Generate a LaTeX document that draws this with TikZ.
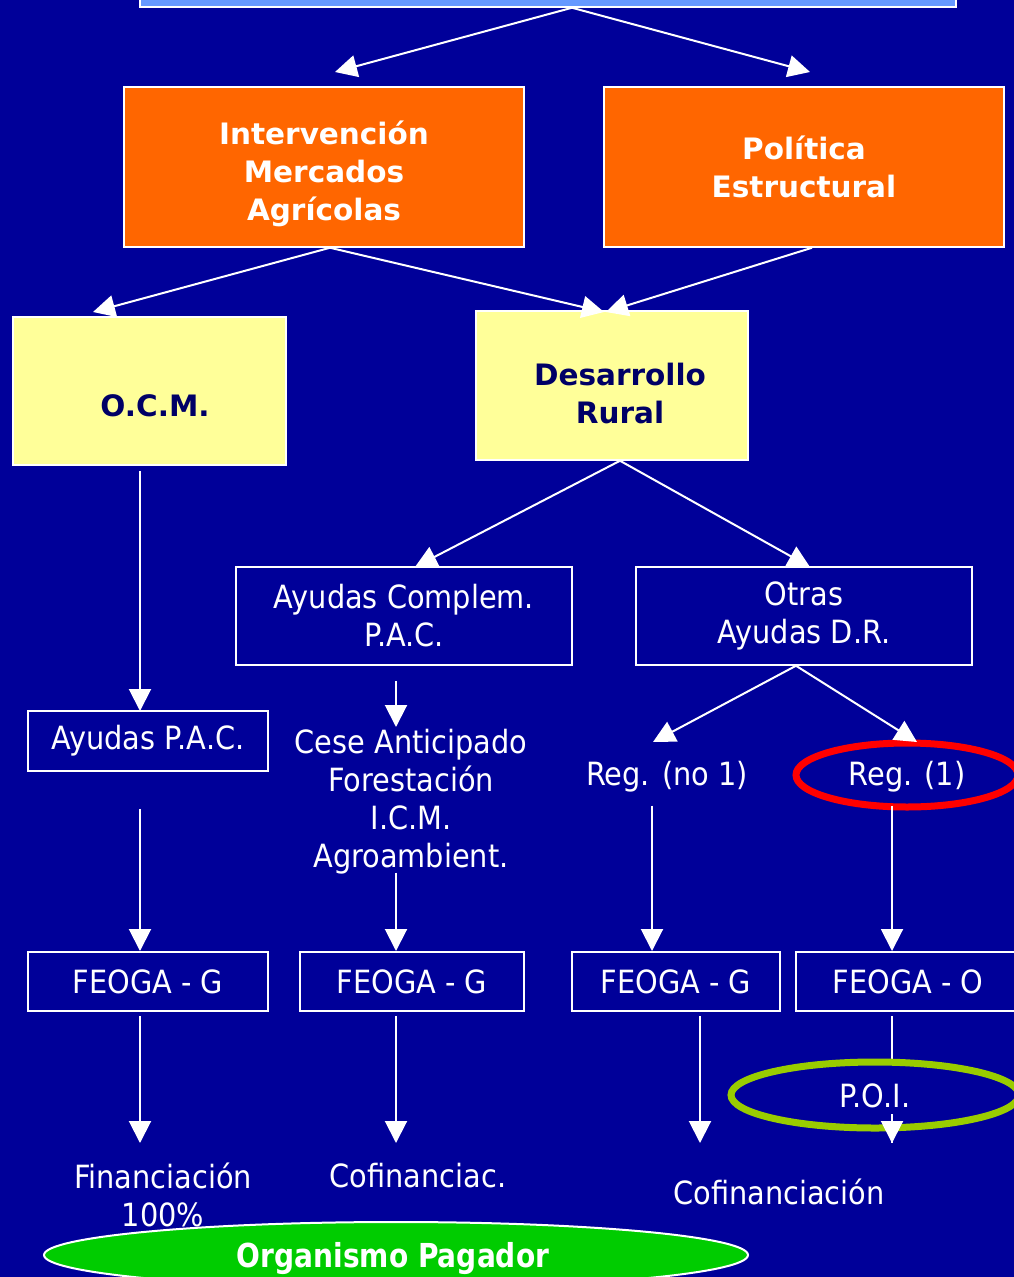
\documentclass[tikz,border=0pt]{standalone}
\usepackage{fontspec}
\setmainfont{DejaVu Sans}
\newfontfamily\tah[FakeStretch=0.9]{DejaVu Sans}
\newfontfamily\tahbold[FakeStretch=0.85]{DejaVu Sans Bold}
\usetikzlibrary{arrows.meta,shapes.geometric}
\definecolor{bg}{HTML}{000099}
\definecolor{orng}{HTML}{FF6600}
\definecolor{yel}{HTML}{FFFF99}
\definecolor{lblue}{HTML}{6699FF}
\definecolor{dnavy}{HTML}{000066}
\definecolor{redc}{HTML}{FF0000}
\definecolor{poig}{HTML}{99CC00}
\definecolor{orgg}{HTML}{00CC00}
\tikzset{
  reg/.style={font=\tah\fontsize{32}{38}\selectfont, text=white, align=center, inner sep=0pt},
  bld/.style={font=\bfseries\fontsize{29.5}{38}\selectfont, align=center, inner sep=0pt},
  obox/.style={bld, rectangle, draw=white, line width=1.5pt, fill=orng, text=white},
  ybox/.style={rectangle, draw=white, line width=1.5pt, fill=yel, inner sep=0pt},
  wbox/.style={reg, rectangle, draw=white, line width=1.5pt},
  arr/.style={draw=white, line width=2pt, -{Triangle[width=22pt,length=22pt]}},
  ring/.style={ellipse, inner sep=0pt, line width=7pt}
}
\begin{document}
\begin{tikzpicture}[x=1pt,y=-1pt]
\fill[bg] (0,0) rectangle (1014,1277);
\useasboundingbox (0,0) rectangle (1014,1277);

% top box
\node[rectangle, draw=white, line width=1.5pt, fill=lblue, minimum width=816pt, minimum height=40pt, inner sep=0pt] (top) at (548,-13) {};

% orange boxes
\node[obox, minimum width=400pt, minimum height=160pt] (iv) at (324,167) {};
\node[bld, text=white] (ivt) at (324,174) {Intervención\\Mercados\\Agrícolas};
\node[obox, minimum width=400pt, minimum height=160pt] (pe) at (804,167) {Política\\Estructural};

% yellow boxes
\node[ybox, minimum width=273pt, minimum height=148pt] (ocm) at (149.5,391) {};
\node[bld, text=dnavy] (ocmt) at (155,406) {O.C.M.};
\node[ybox, minimum width=272pt, minimum height=149pt] (dr) at (612,385.5) {};
\node[bld, text=dnavy] (drt) at (620,393) {Desarrollo\\Rural};

% outline boxes
\node[wbox, minimum width=336pt, minimum height=98pt] (acb) at (404,616) {Ayudas Complem.\\P.A.C.};
\node[wbox, minimum width=336pt, minimum height=98pt] (odr) at (804,616) {Otras\\Ayudas D.R.};
\node[wbox, minimum width=240pt, minimum height=60pt] (apac) at (148,741) {Ayudas P.A.C.};

\node[reg] (cese) at (411,802) {Cese Anticipado\\Forestación\\I.C.M.\\Agroambient.};
\node[reg] (rn1) at (667,777) {Reg. (no 1)};
\node[ring, draw=redc, minimum width=222pt, minimum height=64pt] (r1e) at (907,775) {};
\node[reg] (r1) at (907,777) {Reg. (1)};

% FEOGA boxes
\node[wbox, minimum width=240pt, minimum height=59pt] (f1) at (148,981.5) {FEOGA - G};
\node[wbox, minimum width=224pt, minimum height=59pt] (f2) at (412,981.5) {FEOGA - G};
\node[wbox, minimum width=208pt, minimum height=59pt] (f3) at (676,981.5) {FEOGA - G};
\node[wbox, minimum width=224pt, minimum height=59pt] (f4) at (908,981.5) {FEOGA - O};

% bottom texts
\node[reg] (fin) at (163,1195) {Financiación\\100\%};
\node[reg] (cof1) at (418,1176) {Cofinanciac.};
\node[reg] (cof2) at (779,1192) {Cofinanciación};

\node[ellipse, draw=white, line width=2pt, fill=orgg, minimum width=704pt, minimum height=66pt, inner sep=0pt] (org) at (396,1255) {};
\node[font=\tahbold\fontsize{33}{38}\selectfont, text=white, inner sep=0pt] (orgt) at (393,1259) {Organismo Pagador};

% arrow tips
\coordinate (t1) at (335,72);
\coordinate (t2) at (810,72);
\coordinate (t3) at (93,312);
\coordinate (t4) at (604,312);
\coordinate (t5) at (606,312);
\coordinate (t6) at (415,567);
\coordinate (t7) at (810,567);
\coordinate (t8) at (140,711);
\coordinate (t9) at (396,727);
\coordinate (t10) at (653,742);
\coordinate (t11) at (917,742);
\coordinate (t12) at (140,951);
\coordinate (t13) at (396,951);
\coordinate (t14) at (652,951);
\coordinate (t15) at (892,951);
\coordinate (t16) at (140,1143);
\coordinate (t17) at (396,1143);
\coordinate (t18) at (700,1143);
\coordinate (t19) at (892,1143);

\draw[arr] ([xshift=24pt]top.south) -- (t1);
\draw[arr] ([xshift=24pt]top.south) -- (t2);
\draw[arr] ([xshift=6pt]iv.south) -- (t3);
\draw[arr] ([xshift=6pt]iv.south) -- (t4);
\draw[arr] ([xshift=8pt]pe.south) -- (t5);
\draw[arr] ([xshift=8pt]dr.south) -- (t6);
\draw[arr] ([xshift=8pt]dr.south) -- (t7);
\draw[arr] ([xshift=-9.5pt,yshift=-5pt]ocm.south) -- (t8);
\draw[arr] ([xshift=-8pt,yshift=-15pt]acb.south) -- (t9);
\draw[arr] ([xshift=-8pt]odr.south) -- (t10);
\draw[arr] ([xshift=-8pt]odr.south) -- (t11);
\draw[arr] ([xshift=-8pt,yshift=-37pt]apac.south) -- (t12);
\draw[arr] ([xshift=-15pt,yshift=2pt]cese.south) -- (t13);
\draw[arr] (rn1.south -| t14) ++(0,13) -- (t14);
\draw[arr] (r1.south -| t15) ++(0,13) -- (t15);
\draw[arr] ([xshift=-8pt,yshift=-4pt]f1.south) -- (t16);
\draw[arr] ([xshift=-16pt,yshift=-4pt]f2.south) -- (t17);
\draw[arr] ([xshift=24pt,yshift=-4pt]f3.south) -- (t18);
\draw[draw=white, line width=2pt] ([xshift=-16pt,yshift=-4pt]f4.south) -- (t19);

\node[ring, draw=poig, fill=bg, minimum width=288pt, minimum height=66pt] (poie) at (875,1095) {};
\node[reg] (poi) at (875,1096) {P.O.I.};
\draw[arr] (poi.south -| t19) ++(0,6) -- (t19);
\end{tikzpicture}
\end{document}
